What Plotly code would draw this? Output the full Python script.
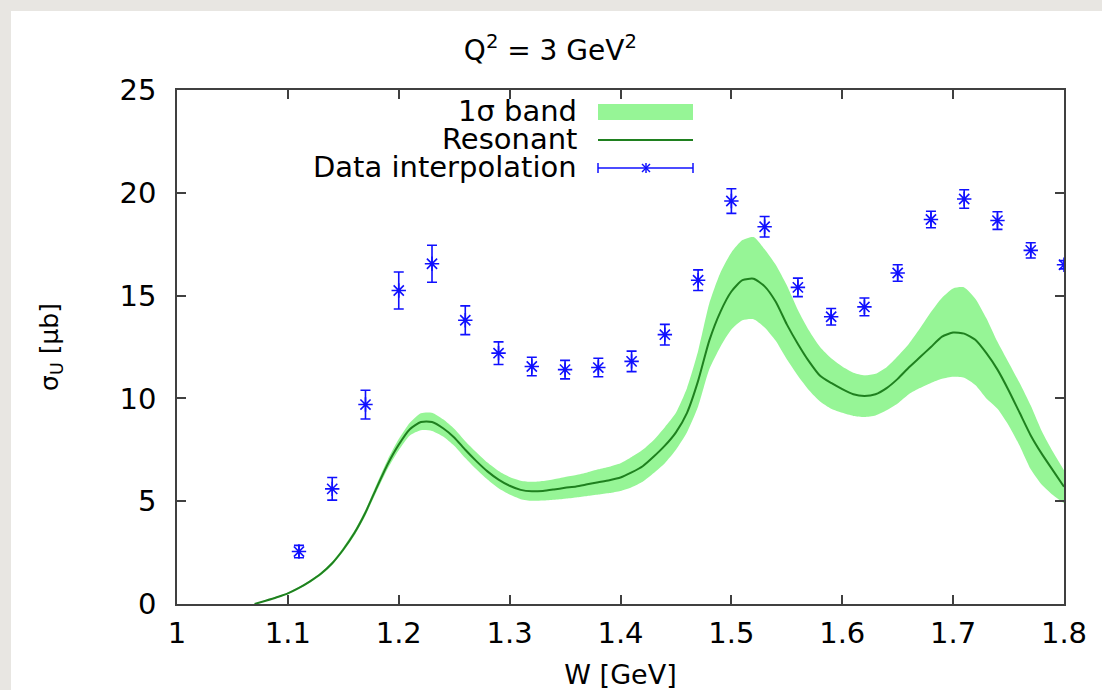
import plotly.graph_objects as go

# --- data ---
w_curve = [1.07, 1.08, 1.09, 1.10, 1.11, 1.12, 1.13, 1.14, 1.15, 1.16, 1.17, 1.18, 1.19,
           1.20, 1.21, 1.22, 1.23, 1.24, 1.25, 1.26, 1.27, 1.28, 1.29, 1.30, 1.31, 1.32,
           1.33, 1.34, 1.35, 1.36, 1.37, 1.38, 1.39, 1.40, 1.41, 1.42, 1.43, 1.44, 1.45,
           1.46, 1.47, 1.48, 1.49, 1.50, 1.51, 1.52, 1.53, 1.54, 1.55, 1.56, 1.57, 1.58,
           1.59, 1.60, 1.61, 1.62, 1.63, 1.64, 1.65, 1.66, 1.67, 1.68, 1.69, 1.70, 1.71,
           1.72, 1.73, 1.74, 1.75, 1.76, 1.77, 1.78, 1.79, 1.80]
resonant = [0.00, 0.16, 0.33, 0.52, 0.78, 1.10, 1.48, 1.98, 2.65, 3.45, 4.45, 5.65, 6.80,
            7.75, 8.50, 8.85, 8.85, 8.55, 8.10, 7.50, 6.95, 6.45, 6.05, 5.75, 5.55, 5.48,
            5.50, 5.57, 5.65, 5.72, 5.82, 5.92, 6.02, 6.15, 6.40, 6.70, 7.17, 7.70, 8.35,
            9.30, 10.85, 12.80, 14.20, 15.20, 15.75, 15.82, 15.45, 14.70, 13.60, 12.65, 11.80, 11.10,
            10.75, 10.45, 10.20, 10.12, 10.20, 10.50, 10.95, 11.50, 12.00, 12.50, 13.00, 13.20, 13.15,
            12.85, 12.20, 11.40, 10.40, 9.30, 8.20, 7.30, 6.50, 5.70]
band_lo = [0.00, 0.14, 0.30, 0.48, 0.73, 1.04, 1.41, 1.90, 2.55, 3.33, 4.31, 5.47, 6.58,
           7.48, 8.20, 8.45, 8.42, 8.15, 7.70, 7.10, 6.55, 6.05, 5.63, 5.32, 5.10, 5.02,
           5.03, 5.07, 5.12, 5.18, 5.25, 5.32, 5.40, 5.50, 5.68, 5.95, 6.37, 6.85, 7.50,
           8.35, 9.60, 11.40, 12.50, 13.35, 13.80, 13.85, 13.45, 12.80, 11.90, 11.10, 10.40, 9.85,
           9.50, 9.30, 9.15, 9.10, 9.17, 9.42, 9.75, 10.20, 10.50, 10.75, 10.95, 11.05, 11.00,
           10.65, 10.00, 9.50, 8.70, 7.70, 6.55, 5.80, 5.30, 4.90]
band_hi = [0.02, 0.18, 0.36, 0.56, 0.83, 1.16, 1.55, 2.06, 2.75, 3.57, 4.59, 5.83, 7.02,
           8.02, 8.82, 9.28, 9.30, 8.98, 8.52, 7.92, 7.38, 6.88, 6.47, 6.18, 6.00, 5.94,
           5.98, 6.07, 6.18, 6.28, 6.40, 6.55, 6.68, 6.85, 7.15, 7.50, 7.98, 8.60, 9.30,
           10.50, 12.30, 14.60, 16.10, 17.10, 17.70, 17.85, 17.25, 16.50, 15.50, 14.30, 13.30, 12.50,
           11.95, 11.55, 11.25, 11.12, 11.20, 11.52, 12.05, 12.65, 13.40, 14.20, 14.90, 15.35, 15.40,
           14.85, 13.90, 12.75, 11.75, 10.75, 9.65, 8.40, 7.40, 6.50]

w_data = [1.11, 1.14, 1.17, 1.20, 1.23, 1.26, 1.29, 1.32, 1.35, 1.38, 1.41, 1.44,
          1.47, 1.50, 1.53, 1.56, 1.59, 1.62, 1.65, 1.68, 1.71, 1.74, 1.77, 1.80]
sigma_data = [2.55, 5.6, 9.7, 15.25, 16.55, 13.8, 12.2, 11.55, 11.4, 11.5, 11.8, 13.1,
              15.75, 19.6, 18.35, 15.4, 13.97, 14.45, 16.1, 18.7, 19.7, 18.65, 17.2, 16.5]
sigma_err = [0.3, 0.55, 0.7, 0.9, 0.9, 0.7, 0.55, 0.45, 0.45, 0.45, 0.5, 0.5,
             0.5, 0.6, 0.5, 0.45, 0.4, 0.43, 0.4, 0.4, 0.45, 0.43, 0.37, 0.2]

BAND = "#96f596"
LINE = "#1f801f"
BLUE = "#1010ff"
FONT = "DejaVu Sans, Liberation Sans, sans-serif"

# plot area in pixels (for placing the hand-made gnuplot style key)
L, R, T, B = 177, 1064, 90, 604


def px(x):
    return (x - L) / (R - L)


def py(y):
    return (B - y) / (B - T)


fig = go.Figure()

fig.add_trace(go.Scatter(x=w_curve, y=band_lo, mode="lines",
                         line=dict(width=0, color=BAND, shape="spline", smoothing=0.6),
                         showlegend=False, hoverinfo="skip"))
fig.add_trace(go.Scatter(x=w_curve, y=band_hi, mode="lines",
                         line=dict(width=0, color=BAND, shape="spline", smoothing=0.6),
                         fill="tonexty", fillcolor=BAND, name="1σ band", showlegend=False))
fig.add_trace(go.Scatter(x=w_curve, y=resonant, mode="lines",
                         line=dict(width=2, color=LINE, shape="spline", smoothing=0.6),
                         name="Resonant", showlegend=False))
fig.add_trace(go.Scatter(
    x=w_data, y=sigma_data, mode="markers", name="Data interpolation", showlegend=False,
    marker=dict(symbol="asterisk-open", size=12, line=dict(width=1.6, color=BLUE), color=BLUE),
    error_y=dict(type="data", array=sigma_err, visible=True, color=BLUE, thickness=1.6, width=5),
))

shapes = [
    # white page panel over the grey background
    dict(type="rect", xref="paper", yref="paper", x0=px(11), x1=px(1110), y0=py(700), y1=py(11),
         fillcolor="white", line=dict(width=0), layer="below"),
    # key samples
    dict(type="rect", xref="paper", yref="paper", x0=px(598), x1=px(693), y0=py(120), y1=py(104),
         fillcolor=BAND, line=dict(width=0)),
    dict(type="line", xref="paper", yref="paper", x0=px(598), x1=px(693), y0=py(140), y1=py(140),
         line=dict(color=LINE, width=2)),
    dict(type="line", xref="paper", yref="paper", x0=px(598), x1=px(693), y0=py(168), y1=py(168),
         line=dict(color=BLUE, width=1.5)),
    dict(type="line", xref="paper", yref="paper", x0=px(598), x1=px(598), y0=py(163), y1=py(173),
         line=dict(color=BLUE, width=1.5)),
    dict(type="line", xref="paper", yref="paper", x0=px(693), x1=px(693), y0=py(163), y1=py(173),
         line=dict(color=BLUE, width=1.5)),
    dict(type="line", xref="paper", yref="paper", x0=px(646), x1=px(646), y0=py(163), y1=py(173),
         line=dict(color=BLUE, width=1.5)),
    dict(type="line", xref="paper", yref="paper", x0=px(642), x1=px(650), y0=py(164), y1=py(172),
         line=dict(color=BLUE, width=1.5)),
    dict(type="line", xref="paper", yref="paper", x0=px(642), x1=px(650), y0=py(172), y1=py(164),
         line=dict(color=BLUE, width=1.5)),
]

key_labels = ["1σ band", "Resonant", "Data interpolation"]
key_y = [111, 139, 167]
annotations = [
    dict(text=t, xref="paper", yref="paper", x=px(579), y=py(yy), xanchor="right", yanchor="middle",
         showarrow=False, font=dict(size=29, color="black", family=FONT))
    for t, yy in zip(key_labels, key_y)
]

axis_common = dict(
    showline=True, linecolor="#404040", linewidth=1.5, mirror="ticks",
    ticks="inside", ticklen=9, tickwidth=1.5, tickcolor="#404040",
    showgrid=False, zeroline=False,
    tickfont=dict(size=29, color="black", family=FONT),
)

fig.update_layout(
    width=1102, height=690,
    margin=dict(l=L, r=1102 - R, t=T, b=690 - B, autoexpand=False),
    paper_bgcolor="#e8e6e2", plot_bgcolor="white",
    font=dict(family=FONT, color="black"),
    title=dict(text="Q<sup>2</sup> = 3 GeV<sup>2</sup>", x=px(620), xanchor="center",
               y=1 - 50 / 690, yanchor="middle", font=dict(size=28, color="black")),
    xaxis=dict(range=[1, 1.8], dtick=0.1, tick0=1, ticklabelstandoff=2,
               title=dict(text="W [GeV]", font=dict(size=27), standoff=17), **axis_common),
    yaxis=dict(range=[0, 25], dtick=5, tick0=0, ticklabelstandoff=13,
               title=dict(text="σ<sub>U</sub> [μb]", font=dict(size=25), standoff=54), **axis_common),
    shapes=shapes,
    annotations=annotations,
    showlegend=False,
)

fig.write_html("out.html", config={"displayModeBar": False},
               post_script="document.body.style.margin='0';document.body.style.overflow='hidden';")
